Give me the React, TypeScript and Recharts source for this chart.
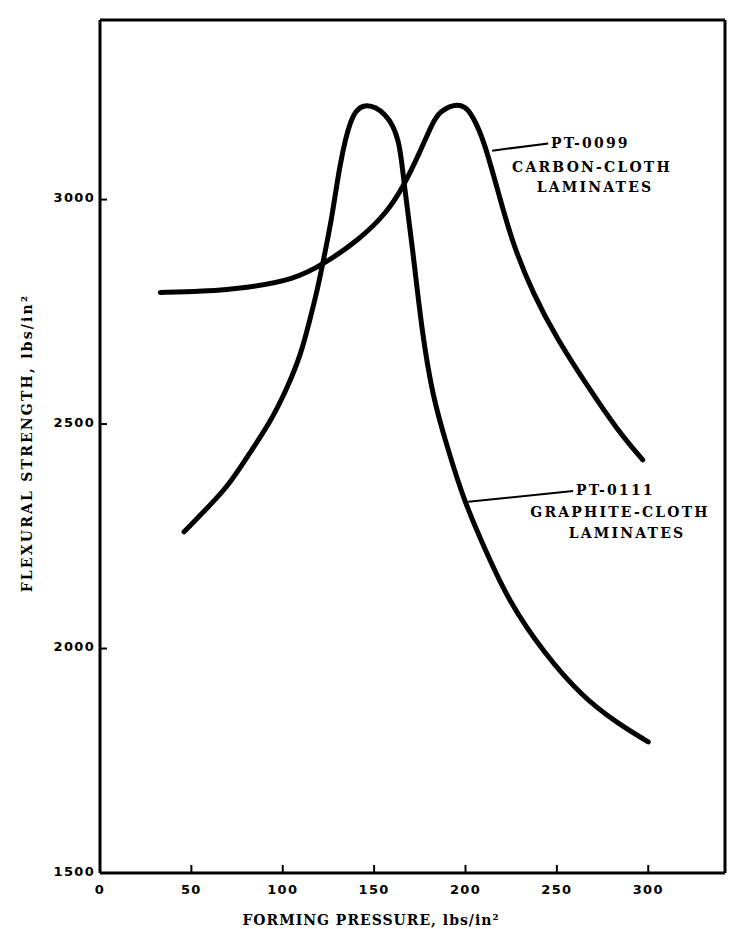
import { LineChart, Line, XAxis, YAxis, ReferenceLine } from 'recharts';

// PT-0099 carbon-cloth laminates
const pressure0099 = [33, 55, 82, 106, 122, 142, 157, 166, 175, 182, 186, 193, 200, 204, 210, 219, 226, 237, 250, 267, 283, 297];
const strength0099 = [2793, 2795, 2804, 2822, 2855, 2911, 2971, 3029, 3105, 3172, 3196, 3212, 3209, 3185, 3134, 3000, 2900, 2790, 2690, 2583, 2487, 2420];

// PT-0111 graphite-cloth laminates
const pressure0111 = [46, 56, 70, 82, 93, 102, 110, 115, 119, 122, 127, 131, 137, 144, 157, 164, 166, 171, 176, 182, 190, 199, 210, 224, 243, 264, 283, 300];
const strength0111 = [2260, 2302, 2360, 2436, 2503, 2576, 2655, 2735, 2800, 2860, 2960, 3075, 3185, 3218, 3194, 3134, 3045, 2895, 2710, 2561, 2449, 2331, 2227, 2102, 1990, 1892, 1834, 1792];

const xTicks = [0, 50, 100, 150, 200, 250, 300];
const yTicks = [1500, 2000, 2500, 3000];

const carbon = pressure0099.map((x, i) => ({ x, y: strength0099[i] }));
const graphite = pressure0111.map((x, i) => ({ x, y: strength0111[i] }));

const tickFont = { fontFamily: '"DejaVu Sans", sans-serif', fontWeight: 'bold', fontSize: 13, letterSpacing: 1.3 };
const serif = { fontFamily: '"DejaVu Serif", serif', color: '#000', position: 'absolute' as const, whiteSpace: 'nowrap' as const };

function XTick(props: any) {
  const { x, y, payload } = props;
  return (
    <g>
      <line x1={x} x2={x} y1={y} y2={y - 8} stroke="#000" strokeWidth={2} />
      <text x={x} y={y + 16} textAnchor="middle" dominantBaseline="central" fill="#000" style={tickFont}>
        {payload.value}
      </text>
    </g>
  );
}

function YTick(props: any) {
  const { x, y, payload } = props;
  return (
    <g>
      <line x1={x} x2={x + 7} y1={y} y2={y} stroke="#000" strokeWidth={2} />
      <text x={x - 5} y={y - 2} textAnchor="end" dominantBaseline="central" fill="#000" style={tickFont}>
        {payload.value}
      </text>
    </g>
  );
}

function Note({ left, top, text, anchor = 'center' }: any) {
  return (
    <div
      style={{
        ...serif,
        left,
        top,
        fontSize: 14,
        fontWeight: 'bold',
        letterSpacing: 2.2,
        transform: anchor === 'center' ? 'translate(-50%, -50%)' : 'translate(0, -50%)',
      }}
    >
      {text}
    </div>
  );
}

export default function App() {
  return (
    <div style={{ position: 'absolute', left: 0, top: 0, width: 731, height: 929, background: '#fff' }}>
      <LineChart width={731} height={929} margin={{ top: 20, right: 6, left: 10, bottom: 26 }}>
        <XAxis
          type="number"
          dataKey="x"
          domain={[0, 342]}
          ticks={xTicks}
          height={30}
          tickLine={false}
          tickSize={0}
          tickMargin={0}
          axisLine={{ stroke: '#000', strokeWidth: 3 }}
          tick={<XTick />}
          allowDataOverflow
        />
        <YAxis
          type="number"
          dataKey="y"
          domain={[1500, 3400]}
          ticks={yTicks}
          width={90}
          tickLine={false}
          tickSize={0}
          tickMargin={0}
          axisLine={{ stroke: '#000', strokeWidth: 3 }}
          tick={<YTick />}
          allowDataOverflow
        />
        <ReferenceLine y={3400} stroke="#000" strokeWidth={3} />
        <ReferenceLine x={342} stroke="#000" strokeWidth={3} />
        <ReferenceLine segment={[{ x: 214.6, y: 3109 }, { x: 245.3, y: 3125 }]} stroke="#000" strokeWidth={2} />
        <ReferenceLine segment={[{ x: 201.5, y: 2327 }, { x: 258.9, y: 2351 }]} stroke="#000" strokeWidth={2} />
        <Line
          data={carbon}
          dataKey="y"
          type="basis"
          stroke="#000"
          strokeWidth={5}
          strokeLinecap="round"
          dot={false}
          isAnimationActive={false}
        />
        <Line
          data={graphite}
          dataKey="y"
          type="basis"
          stroke="#000"
          strokeWidth={5}
          strokeLinecap="round"
          dot={false}
          isAnimationActive={false}
        />
      </LineChart>

      <Note left={551} top={143} text="PT-0099" anchor="left" />
      <Note left={592} top={167} text="CARBON-CLOTH" />
      <Note left={595} top={187} text="LAMINATES" />

      <Note left={576} top={490} text="PT-0111" anchor="left" />
      <Note left={620} top={512} text="GRAPHITE-CLOTH" />
      <Note left={627} top={533} text="LAMINATES" />

      <div style={{ ...serif, left: 371, top: 920, fontSize: 14, fontWeight: 'bold', letterSpacing: 1, transform: 'translate(-50%, -50%)' }}>
        FORMING PRESSURE, lbs/in²
      </div>
      <div
        style={{
          ...serif,
          left: 27,
          top: 443,
          fontSize: 14,
          fontWeight: 'bold',
          letterSpacing: 2.2,
          transform: 'translate(-50%, -50%) rotate(-90deg)',
        }}
      >
        FLEXURAL STRENGTH, lbs/in²
      </div>
    </div>
  );
}
